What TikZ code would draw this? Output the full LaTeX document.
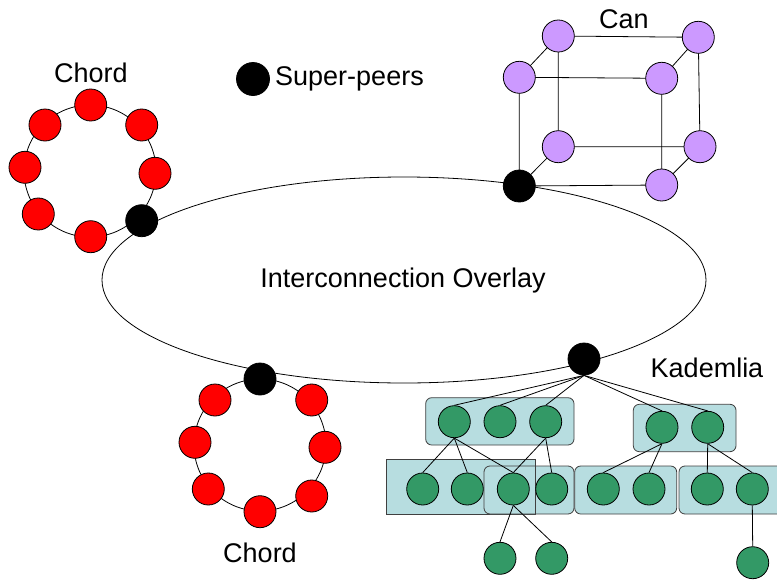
\documentclass[tikz,border=0pt]{standalone}
\usepackage{fontspec}
\setmainfont{Liberation Sans}
\definecolor{chordred}{HTML}{FF0000}
\definecolor{canpurple}{HTML}{CC99FF}
\definecolor{kadgreen}{HTML}{339966}
\definecolor{bucketfill}{HTML}{B7DDE0}
\definecolor{bucketedge}{HTML}{404040}
\pgfdeclarelayer{boxes}
\pgfdeclarelayer{links}
\pgfsetlayers{boxes,links,main}
\begin{document}
\begin{tikzpicture}[x=1pt,y=-1pt,
  peer/.style={circle,draw=black,line width=0.8pt,minimum size=32pt,inner sep=0pt},
  chordpeer/.style={peer,fill=chordred},
  canpeer/.style={peer,fill=canpurple},
  kadpeer/.style={peer,fill=kadgreen},
  superpeer/.style={peer,fill=black},
  bucket/.style={draw=bucketedge,fill=bucketfill,line width=0.8pt,rounded corners=6pt},
  link/.style={draw=black,line width=0.8pt},
  caption/.style={font=\fontsize{27}{32}\selectfont,inner sep=0pt}]
\useasboundingbox (0,0) rectangle (777,581);

% ---------- interconnection overlay ----------
\begin{pgfonlayer}{links}
  \draw[link] (404,280) ellipse [x radius=302, y radius=103];
\end{pgfonlayer}
\node[caption] (overlay) at (403,281) {Interconnection Overlay};

% ---------- legend ----------
\node[superpeer,minimum size=33pt] (legdot) at (253,79) {};
\node[caption,anchor=west] (legtxt) at (275,79) {Super-peers};

% ---------- Chord ring (top left) ----------
\node[caption] (chordA) at (91,73) {Chord};
\node[chordpeer] (a1) at (90.7,105) {};
\node[chordpeer] (a2) at (141.7,125) {};
\node[chordpeer] (a3) at (155,173.3) {};
\node[superpeer] (a4) at (141.7,220.7) {};
\node[chordpeer] (a5) at (90.7,236.7) {};
\node[chordpeer] (a6) at (38.3,214) {};
\node[chordpeer] (a7) at (25,167.3) {};
\node[chordpeer] (a8) at (45,125) {};
\begin{pgfonlayer}{links}
  \draw[link] (90,171) circle [radius=66];
\end{pgfonlayer}

% ---------- Chord ring (bottom) ----------
\node[caption] (chordB) at (260,553) {Chord};
\node[superpeer] (b1) at (260,379) {};
\node[chordpeer] (b2) at (311.7,400) {};
\node[chordpeer] (b3) at (325,447.3) {};
\node[chordpeer] (b4) at (311.7,496) {};
\node[chordpeer] (b5) at (260,511.7) {};
\node[chordpeer] (b6) at (208.3,489) {};
\node[chordpeer] (b7) at (195,442.3) {};
\node[chordpeer] (b8) at (215,400) {};
\begin{pgfonlayer}{links}
  \draw[link] (260,445) circle [radius=66];
\end{pgfonlayer}

% ---------- CAN cube ----------
\node[caption] (can) at (624,19) {Can};
\node[canpeer] (btl) at (558.3,36) {};
\node[canpeer] (btr) at (698.3,37.3) {};
\node[canpeer] (ftl) at (519.3,77.3) {};
\node[canpeer] (ftr) at (661.7,78.3) {};
\node[canpeer] (bbl) at (558.3,146.7) {};
\node[canpeer] (bbr) at (700,146.7) {};
\node[superpeer] (fbl) at (519.3,186) {};
\node[canpeer] (fbr) at (661.7,185) {};
\begin{pgfonlayer}{links}
  \draw[link] (fbl.center) -- (fbr.center) -- (ftr.center) -- (ftl.center) -- (fbl.center);
  \draw[link] (bbl.center) -- (bbr.center) -- (btr.center) -- (btl.center) -- (bbl.center);
  \draw[link] (ftl.center) -- (btl.center);
  \draw[link] (ftr.center) -- (btr.center);
  \draw[link] (fbr.center) -- (bbr.center);
  \draw[link] (fbl.center) -- (bbl.center);
\end{pgfonlayer}

% ---------- Kademlia tree ----------
\node[caption] (kad) at (707,368) {Kademlia};
\node[superpeer] (root) at (584,359) {};

\begin{pgfonlayer}{boxes}
  \path[bucket] (425.7,397.7) rectangle (574,445);
  \path[bucket] (633.3,404.3) rectangle (736,451.7);
  \path[bucket,sharp corners] (386.7,459) rectangle (535.7,514);
  \path[bucket] (484,466) rectangle (574,514);
  \draw[draw=bucketedge,line width=0.8pt] (535.7,466) -- (535.7,514);
  \path[bucket] (574.7,466) rectangle (676.7,514);
  \begin{scope}
    \clip (0,0) rectangle (777,581);
    \path[bucket] (679,466) rectangle (790,514);
  \end{scope}
\end{pgfonlayer}

% first level buckets
\node[kadpeer] (k1) at (454.3,421.7) {};
\node[kadpeer] (k2) at (500,421.7) {};
\node[kadpeer] (k3) at (545.7,421.7) {};
\node[kadpeer] (k4) at (662,427.3) {};
\node[kadpeer] (k5) at (707.7,427.3) {};
% second level buckets
\node[kadpeer] (m1) at (422.7,489) {};
\node[kadpeer] (m2) at (467.3,489) {};
\node[kadpeer] (m3) at (513.3,489) {};
\node[kadpeer] (m4) at (551.7,489) {};
\node[kadpeer] (m5) at (603.3,489) {};
\node[kadpeer] (m6) at (649,489) {};
\node[kadpeer] (m7) at (707.3,489) {};
\node[kadpeer] (m8) at (752.3,489) {};
% leaves
\node[kadpeer] (l1) at (500,558.3) {};
\node[kadpeer] (l2) at (551.7,558.3) {};
\node[kadpeer] (l3) at (752.7,562.7) {};

\begin{pgfonlayer}{links}
  \foreach \c in {k1,k2,k3,k4,k5} \draw[link] (root.south) -- (\c.north);
  \foreach \c in {m1,m2,m3} \draw[link] (k1.south) -- (\c.north);
  \foreach \c in {m3,m4} \draw[link] (k3.south) -- (\c.north);
  \foreach \c in {m5,m6} \draw[link] (k4.south) -- (\c.north);
  \foreach \c in {m7,m8} \draw[link] (k5.south) -- (\c.north);
  \foreach \c in {l1,l2} \draw[link] (m3.south) -- (\c.north);
  \draw[link] (m8.south) -- (l3.north);
\end{pgfonlayer}
\end{tikzpicture}
\end{document}
